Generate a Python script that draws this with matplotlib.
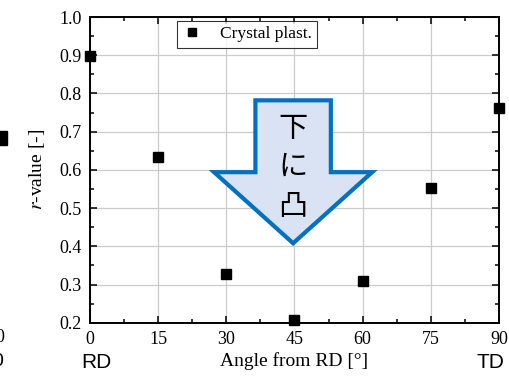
import numpy as np
import matplotlib.pyplot as plt
from matplotlib.patches import Polygon
from matplotlib.lines import Line2D
from matplotlib.ticker import MultipleLocator

# data
angles = [0, 15, 30, 45, 60, 75, 90]
r_values = [0.899, 0.634, 0.328, 0.207, 0.310, 0.553, 0.763]
x_ticks = [0, 15, 30, 45, 60, 75, 90]
y_ticks = [0.2, 0.3, 0.4, 0.5, 0.6, 0.7, 0.8, 0.9, 1.0]
arrow_text = ["下", "に", "凸"]

serif = ["Liberation Serif", "DejaVu Serif"]
cjk = ["Noto Sans CJK JP", "DejaVu Sans"]
plt.rcParams["font.family"] = serif
plt.rcParams["mathtext.fontset"] = "stix"

fig = plt.figure(figsize=(5.09, 3.79), dpi=100)
ax = fig.add_axes([0.1768, 0.1485, 0.8035, 0.8066])

ax.plot(angles, r_values, linestyle="none", marker="s", markersize=7.3,
        color="black", label="Crystal plast.", clip_on=False, zorder=5)

ax.set_xlim(0, 90)
ax.set_ylim(0.2, 1.0)
ax.set_xticks(x_ticks)
ax.set_yticks(y_ticks)
ax.xaxis.set_minor_locator(MultipleLocator(7.5))
ax.yaxis.set_minor_locator(MultipleLocator(0.05))
ax.yaxis.set_major_formatter(plt.FormatStrFormatter("%.1f"))
ax.grid(True, which="major", color="#cccccc", linewidth=0.9)
ax.set_axisbelow(True)
ax.tick_params(which="both", direction="in", top=True, right=True,
               labelsize=13, width=1.1, pad=6)
ax.tick_params(which="major", length=5)
ax.tick_params(which="minor", length=3)
ax.tick_params(axis="x", pad=6)
for s in ax.spines.values():
    s.set_linewidth(1.4)

ax.set_xlabel("Angle from RD [°]", fontsize=14, labelpad=3)
ax.set_ylabel("$r$-value [-]", fontsize=14, labelpad=9)

leg = ax.legend(loc="upper left", bbox_to_anchor=(0.212, 0.987), fontsize=12.5,
                frameon=True, fancybox=False, edgecolor="black",
                markerscale=0.8, handlelength=1.2, handletextpad=1.0,
                borderpad=0.3, borderaxespad=0)
leg.get_frame().set_linewidth(0.8)

# downward arrow annotation
cx, sw, hw = 44.7, 8.3, 17.4
y_top, y_head, y_tip = 0.782, 0.594, 0.408
arrow_pts = [(cx - sw, y_top), (cx + sw, y_top), (cx + sw, y_head),
             (cx + hw, y_head), (cx, y_tip), (cx - hw, y_head),
             (cx - sw, y_head)]
ax.add_patch(Polygon(arrow_pts, closed=True, facecolor="#dae3f3",
                     edgecolor="#0070c0", linewidth=3, joinstyle="miter",
                     zorder=4))
for t, yy in zip(arrow_text, [0.707, 0.607, 0.503]):
    ax.text(cx, yy, t, fontsize=21, family=cjk, ha="center", va="center",
            zorder=6)

# direction labels under the axis
fig.text(96 / 509, 1 - 362 / 379, "RD", fontsize=15, family="Liberation Sans",
         ha="center", va="center")
fig.text(490 / 509, 1 - 362 / 379, "TD", fontsize=15, family="Liberation Sans",
         ha="center", va="center")

# fragment of the neighbouring chart at the left edge
fig.add_artist(Line2D([0.0], [1 - 138 / 379], marker="s", markersize=10,
                      color="black", transform=fig.transFigure))
fig.text(0.0, 1 - 338 / 379, "0", fontsize=13, ha="center", va="center")
fig.text(-0.004, 1 - 362 / 379, "0", fontsize=14, family="Liberation Sans",
         ha="center", va="center")

fig.savefig("out.png", dpi=100)
